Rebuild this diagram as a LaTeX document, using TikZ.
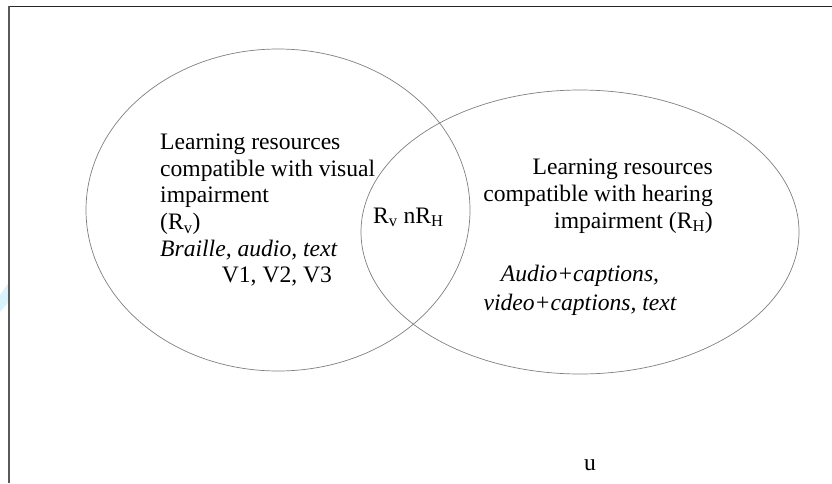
\documentclass[tikz,border=0pt]{standalone}
\usepackage{fontspec}
\setmainfont{Liberation Serif}
\begin{document}
\begin{tikzpicture}[x=1pt,y=-1pt,
  setline/.style={draw=black!50,line width=0.7pt},
  lbl/.style={inner sep=0pt,font=\fontsize{23.6}{26.7}\selectfont},
  lblit/.style={lbl,font=\fontsize{23.6}{26.7}\selectfont\itshape}]
\useasboundingbox (0,0) rectangle (832,483);
\fill[white] (0,0) rectangle (832,483);
% faint mark at the left margin
\fill[cyan!15] (0,295) -- (8.5,283) -- (8.5,302) -- (0,312) -- cycle;
% frame
\draw[black!85,line width=1.4pt] (8.7,6.5) -- (832,6.5);
\draw[black!65,line width=1.6pt] (8.7,6) -- (8.7,483);
% the two sets
\draw[setline] (278,210) ellipse [x radius=192,y radius=161];
\draw[setline] (580,232) ellipse [x radius=219,y radius=142];
% visual impairment set
\node[lbl,anchor=base west] (v1) at (160,149.3) {Learning resources};
\node[lbl,anchor=base west] (v2) at (160,176) {compatible with visual};
\node[lbl,anchor=base west] (v3) at (160,202.7) {impairment};
\node[lbl,anchor=base west] (v4) at (160,229.3) {(R\textsubscript{v})};
\node[lblit,anchor=base west] (v5) at (160,256) {Braille, audio, text};
\node[lbl,anchor=base west] (v6) at (221.7,282.7) {V1, V2, V3};
% intersection
\node[lbl,anchor=base west] (vh) at (373,223) {R\textsubscript{v} nR\textsubscript{H}};
% hearing impairment set
\node[lbl,anchor=base east] (h1) at (713,174.6) {Learning resources};
\node[lbl,anchor=base east] (h2) at (713,201.3) {compatible with hearing};
\node[lbl,anchor=base east] (h3) at (713,228) {impairment (R\textsubscript{H})};
\node[lblit,anchor=base] (h4) at (580,281.7) {Audio+captions,};
\node[lblit,anchor=base] (h5) at (580,310) {video+captions, text};
% universe
\node[lbl,anchor=base] (u) at (590,470) {u};
\end{tikzpicture}
\end{document}
